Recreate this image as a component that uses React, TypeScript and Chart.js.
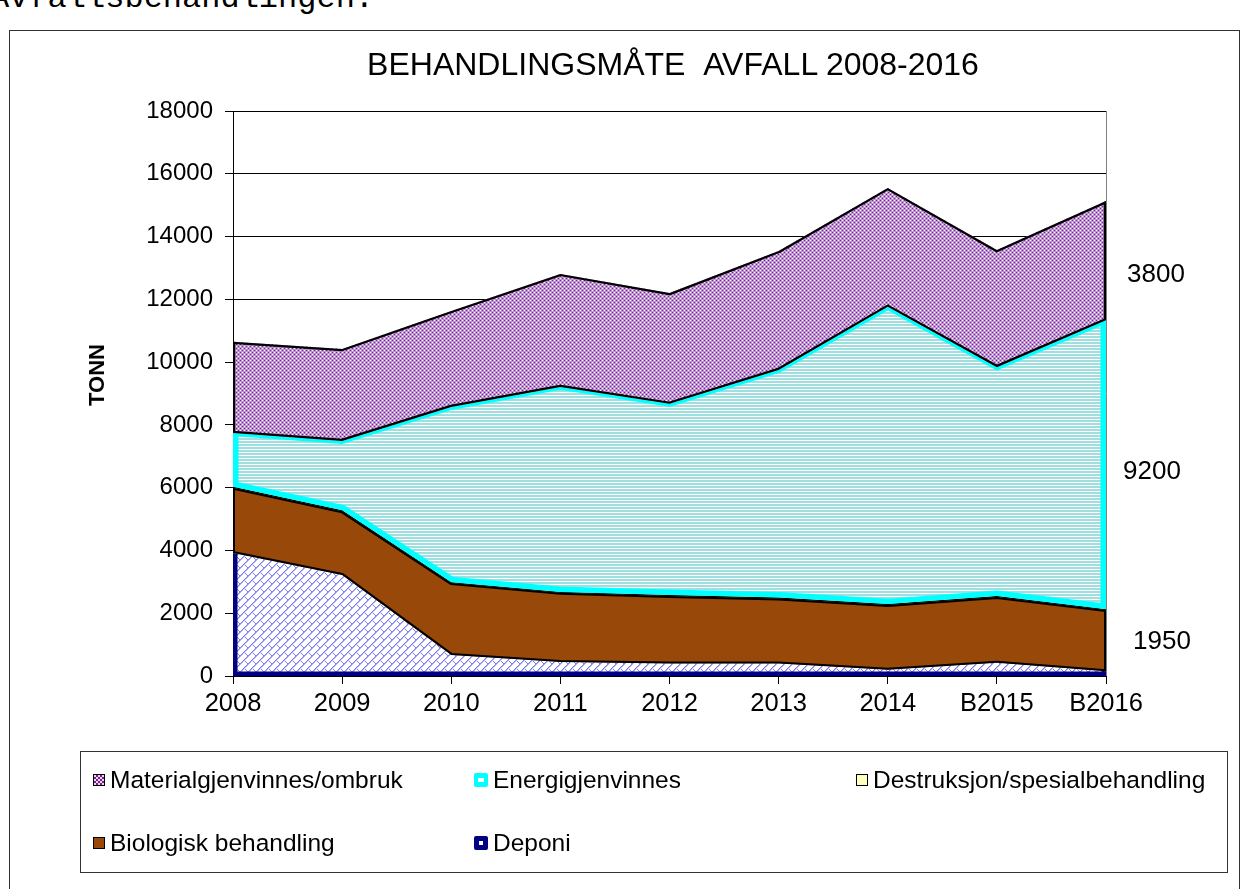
import React, { useEffect, useRef } from 'react';
import { Chart, registerables } from 'chart.js';

Chart.register(...registerables);

const years = ['2008', '2009', '2010', '2011', '2012', '2013', '2014', 'B2015', 'B2016'];
const deponi = [3920, 3220, 670, 450, 400, 400, 200, 420, 150];
const biologisk = [2080, 2030, 2290, 2200, 2150, 2070, 2060, 2100, 1950];
const destruksjon = [30, 30, 30, 30, 30, 30, 30, 30, 30];
const energi = [1710, 2210, 5580, 6530, 6090, 7250, 9470, 7290, 9200];
const material = [2910, 2930, 3060, 3600, 3530, 3790, 3790, 3730, 3800];
const yTicks = [0, 2000, 4000, 6000, 8000, 10000, 12000, 14000, 16000, 18000];
const sideLabels = ['3800', '9200', '1950'];

const FONT = "'Liberation Sans', Arial, sans-serif";

function makePattern(w: number, h: number, draw: (c: CanvasRenderingContext2D) => void) {
  const cv = document.createElement('canvas');
  cv.width = w;
  cv.height = h;
  const c = cv.getContext('2d')!;
  draw(c);
  return c.createPattern(cv, 'repeat')!;
}

// stroke widths are doubled because each outline is clipped to the inside of its own area
const outlineStyles = [
  { color: '#000080', width: 9, topWidth: 0 },
  { color: '#000000', width: 4, topWidth: 4 },
  { color: '#000000', width: 2, topWidth: 2 },
  { color: '#00ffff', width: 11, topWidth: 6 },
  { color: '#000000', width: 4.5, topWidth: 4.5 },
];

const outlinePlugin = {
  id: 'outlines',
  afterDatasetsDraw(chart: any) {
    const { ctx, chartArea, scales } = chart;
    const y0 = scales.y.getPixelForValue(0);
    let lower: { x: number; y: number }[] | null = null;
    chart.data.datasets.forEach((_ds: any, i: number) => {
      const meta = chart.getDatasetMeta(i);
      const upper = meta.data.map((p: any) => ({ x: p.x, y: p.y }));
      const low = lower ?? upper.map((p: any) => ({ x: p.x, y: y0 }));
      const st = outlineStyles[i];
      const n = upper.length;
      ctx.save();
      ctx.beginPath();
      ctx.rect(chartArea.left, chartArea.top, chartArea.right - chartArea.left, chartArea.bottom - chartArea.top);
      ctx.clip();
      ctx.beginPath();
      ctx.moveTo(upper[0].x, upper[0].y);
      for (let k = 1; k < n; k++) ctx.lineTo(upper[k].x, upper[k].y);
      for (let k = n - 1; k >= 0; k--) ctx.lineTo(low[k].x, low[k].y);
      ctx.closePath();
      ctx.clip();
      ctx.strokeStyle = st.color;
      ctx.lineJoin = 'round';
      ctx.lineCap = 'round';
      // left, bottom and right edges
      ctx.lineWidth = st.width;
      ctx.beginPath();
      ctx.moveTo(upper[0].x, upper[0].y);
      ctx.lineTo(low[0].x, low[0].y);
      for (let k = 1; k < n; k++) ctx.lineTo(low[k].x, low[k].y);
      ctx.lineTo(upper[n - 1].x, upper[n - 1].y);
      ctx.stroke();
      // top edge
      if (st.topWidth > 0) {
        ctx.lineWidth = st.topWidth;
        ctx.beginPath();
        ctx.moveTo(upper[0].x, upper[0].y);
        for (let k = 1; k < n; k++) ctx.lineTo(upper[k].x, upper[k].y);
        ctx.stroke();
      }
      ctx.restore();
      lower = upper;
    });
    ctx.save();
    ctx.strokeStyle = '#808080';
    ctx.lineWidth = 1;
    ctx.beginPath();
    ctx.moveTo(Math.round(chartArea.right) + 0.5, chartArea.top);
    ctx.lineTo(Math.round(chartArea.right) + 0.5, chartArea.bottom);
    ctx.stroke();
    ctx.restore();
  },
};

function LegendIcon({ kind }: { kind: string }) {
  const base: React.CSSProperties = {
    display: 'inline-block',
    width: 12,
    height: 12,
    boxSizing: 'border-box',
    marginRight: 5,
    verticalAlign: 'middle',
    position: 'relative',
    top: -2,
  };
  if (kind === 'material')
    return (
      <span
        style={{
          ...base,
          border: '1px solid #000',
          background: 'repeating-conic-gradient(#7b1f8c 0 25%, #e8d4f0 0 50%) 0 0/4px 4px',
        }}
      />
    );
  if (kind === 'energi')
    return (
      <span style={{ ...base, background: '#00ffff', borderRadius: 2, width: 14, height: 14 }}>
        <span style={{ position: 'absolute', left: 4, top: 5, width: 6, height: 4, background: '#fff' }} />
      </span>
    );
  if (kind === 'destr')
    return <span style={{ ...base, border: '1.5px solid #000', background: '#ffffc0' }} />;
  if (kind === 'bio')
    return <span style={{ ...base, border: '1.5px solid #000', background: '#984808' }} />;
  return (
    <span style={{ ...base, background: '#000080', borderRadius: 2, width: 14, height: 14 }}>
      <span style={{ position: 'absolute', left: 5, top: 5, width: 4, height: 4, background: '#fff' }} />
    </span>
  );
}

export default function App() {
  const ref = useRef<HTMLCanvasElement>(null);

  useEffect(() => {
    if (!ref.current) return;
    const materialPat = makePattern(4, 4, (c) => {
      c.fillStyle = '#bf94d3';
      c.fillRect(0, 0, 4, 4);
      c.fillStyle = '#7b1f8c';
      c.fillRect(0, 0, 1, 1);
      c.fillRect(2, 2, 1, 1);
      c.fillStyle = '#ffffff';
      c.fillRect(2, 0, 1, 1);
      c.fillRect(0, 2, 1, 1);
    });
    const energiPat = makePattern(3, 3, (c) => {
      c.fillStyle = '#ffffff';
      c.fillRect(0, 0, 3, 3);
      c.fillStyle = '#9fdfdf';
      c.fillRect(0, 0, 3, 2);
    });
    const deponiPat = makePattern(8, 8, (c) => {
      c.fillStyle = '#ffffff';
      c.fillRect(0, 0, 8, 8);
      c.fillStyle = '#7c7cec';
      for (let i = 0; i < 8; i++) c.fillRect(i, 7 - i, 1, 1);
      for (let i = 0; i < 4; i++) c.fillRect(i + 4, i + 4, 1, 1);
      c.fillStyle = '#b4b4f6';
      for (let i = 0; i < 8; i++) c.fillRect((i + 1) % 8, 7 - i, 1, 1);
    });

    const common = { pointRadius: 0, borderWidth: 0, tension: 0 };
    const chart = new Chart(ref.current, {
      type: 'line',
      data: {
        labels: years,
        datasets: [
          { label: 'Deponi', data: deponi, backgroundColor: deponiPat, fill: 'origin', ...common },
          { label: 'Biologisk behandling', data: biologisk, backgroundColor: '#984808', fill: '-1', ...common },
          { label: 'Destruksjon/spesialbehandling', data: destruksjon, backgroundColor: '#ffffc0', fill: '-1', ...common },
          { label: 'Energigjenvinnes', data: energi, backgroundColor: energiPat, fill: '-1', ...common },
          { label: 'Materialgjenvinnes/ombruk', data: material, backgroundColor: materialPat, fill: '-1', ...common },
        ],
      },
      options: {
        animation: false,
        responsive: false,
        maintainAspectRatio: false,
        layout: { padding: { left: 100, right: 140, top: 111, bottom: 163 } },
        plugins: { legend: { display: false }, title: { display: false }, tooltip: { enabled: false } },
        scales: {
          x: {
            type: 'category',
            offset: false,
            grid: { display: true, drawOnChartArea: false, drawTicks: true, tickLength: 8, color: '#000' },
            border: { color: '#000', width: 1 },
            ticks: { color: '#000', font: { family: FONT, size: 25.5 }, padding: 5, maxRotation: 0, autoSkip: false },
            afterFit: (s: any) => {
              s.height = 50;
            },
          },
          y: {
            stacked: true,
            min: 0,
            max: 18000,
            afterBuildTicks: (s: any) => {
              s.ticks = yTicks.map((v) => ({ value: v }));
            },
            grid: { color: '#000', lineWidth: 1, tickLength: 8 },
            border: { color: '#000', width: 1 },
            ticks: {
              color: '#000',
              font: { family: FONT, size: 24 },
              padding: 12,
              callback: (v: any) => String(v),
            },
            afterFit: (s: any) => {
              s.width = 133;
            },
          },
        },
      },
      plugins: [outlinePlugin],
    });
    return () => chart.destroy();
  }, []);

  const txt: React.CSSProperties = { position: 'absolute', fontFamily: FONT, color: '#000', whiteSpace: 'nowrap' };

  return (
    <div style={{ position: 'absolute', left: 0, top: 0, width: 1246, height: 889, overflow: 'hidden', background: '#fff' }}>
      <div
        style={{
          position: 'absolute',
          left: -10,
          top: -17,
          fontFamily: "'Liberation Mono', monospace",
          fontSize: 32,
          lineHeight: '32px',
          whiteSpace: 'nowrap',
          color: '#000',
        }}
      >
        Avfallsbehandlingen.
      </div>
      <div
        style={{
          position: 'absolute',
          left: 9,
          top: 30,
          width: 1231,
          height: 900,
          border: '1px solid #333',
          boxSizing: 'border-box',
        }}
      />
      <canvas ref={ref} width={1246} height={889} style={{ position: 'absolute', left: 0, top: 0 }} />
      <div style={{ ...txt, left: 673, top: 46, transform: 'translateX(-50%)', fontSize: 32, lineHeight: '36px' }}>
        BEHANDLINGSMÅTE&nbsp;&nbsp;AVFALL 2008-2016
      </div>
      <div
        style={{
          ...txt,
          left: 97,
          top: 375,
          transform: 'translate(-50%, -50%) rotate(-90deg)',
          fontSize: 22,
          fontWeight: 'bold',
        }}
      >
        TONN
      </div>
      <div style={{ ...txt, left: 1156, top: 273, transform: 'translate(-50%, -50%)', fontSize: 26 }}>{sideLabels[0]}</div>
      <div style={{ ...txt, left: 1152, top: 470, transform: 'translate(-50%, -50%)', fontSize: 26 }}>{sideLabels[1]}</div>
      <div style={{ ...txt, left: 1162, top: 640, transform: 'translate(-50%, -50%)', fontSize: 26 }}>{sideLabels[2]}</div>
      <div
        style={{
          position: 'absolute',
          left: 80,
          top: 751,
          width: 1148,
          height: 122,
          border: '1px solid #333',
          boxSizing: 'border-box',
        }}
      >
        {[
          { kind: 'material', label: 'Materialgjenvinnes/ombruk', x: 12, y: 28 },
          { kind: 'energi', label: 'Energigjenvinnes', x: 393, y: 28 },
          { kind: 'destr', label: 'Destruksjon/spesialbehandling', x: 775, y: 28 },
          { kind: 'bio', label: 'Biologisk behandling', x: 12, y: 91 },
          { kind: 'deponi', label: 'Deponi', x: 393, y: 91 },
        ].map((it) => (
          <div
            key={it.label}
            style={{ ...txt, left: it.x, top: it.y, transform: 'translateY(-50%)', fontSize: 24.5, lineHeight: '28px' }}
          >
            <LegendIcon kind={it.kind} />
            {it.label}
          </div>
        ))}
      </div>
    </div>
  );
}
